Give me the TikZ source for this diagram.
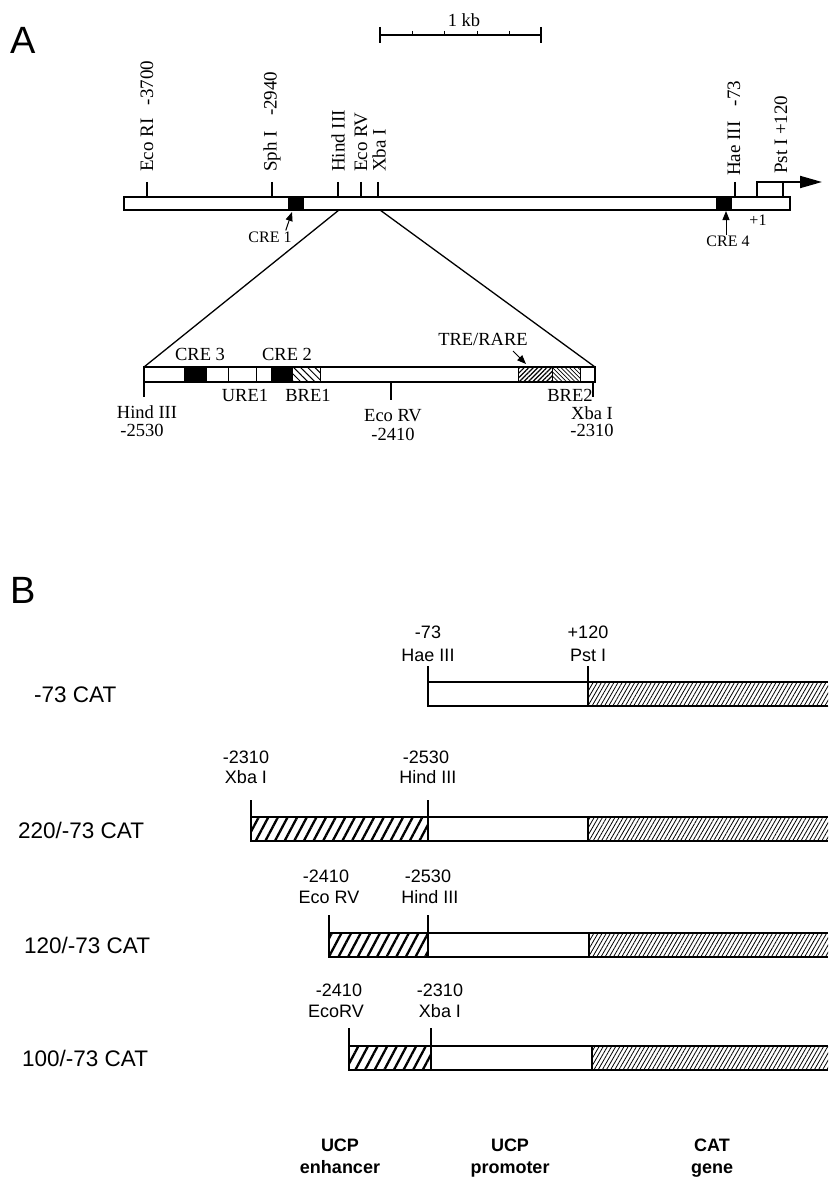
\documentclass[tikz,border=0pt]{standalone}
\usepackage{fontspec}
\setmainfont{Liberation Serif}
\setsansfont{Liberation Sans}
\usetikzlibrary{positioning, calc, arrows.meta, patterns.meta}

\begin{document}
\begin{tikzpicture}[
    x=1pt, y=-1pt,
    mapbar/.style={draw, line width=1.3pt, fill=white},
    crebox/.style={fill=black},
    divider/.style={line width=0.9pt},
    site/.style={line width=1.2pt},
    cut/.style={line width=1.3pt},
    rsite/.style={rotate=90, anchor=west, inner sep=0pt, font=\fontsize{19}{19}\selectfont},
    slabel/.style={inner sep=0pt, font=\fontsize{18.5}{18.5}\selectfont},
    crelabel/.style={inner sep=0pt, font=\fontsize{16}{16}\selectfont},
    ptr/.style={-{Triangle[length=9pt, width=7pt]}, line width=1pt},
    construct/.style={draw, line width=1.8pt},
    enhancer/.style={pattern={Lines[angle=62, distance=8.5pt, line width=2.3pt]}},
    catgene/.style={pattern={Lines[angle=60, distance=3.6pt, line width=0.8pt]}},
    bsite/.style={anchor=base, inner sep=0pt, font=\sffamily\fontsize{18}{18}\selectfont},
    rowlabel/.style={anchor=west, inner sep=0pt, font=\sffamily\fontsize{22.5}{22.5}\selectfont},
    partlabel/.style={anchor=base west, inner sep=0pt, font=\sffamily\fontsize{38}{38}\selectfont},
    region/.style={anchor=base, inner sep=0pt, font=\sffamily\bfseries\fontsize{18}{18}\selectfont}
]
    \useasboundingbox (0,0) rectangle (828,1177);

    % ================= PART A: MAP =================
    \node[partlabel] (partA) at (10,54) {A};

    % scale bar
    \draw[line width=1.3pt] (380,35) -- (541,35);
    \draw[line width=1.3pt] (380,27) -- (380,43) (541,27) -- (541,43);
    \foreach \x in {412,444,477,509}
        \draw[line width=0.9pt] (\x,31) -- (\x,35);
    \node[slabel] (kb) at (464,20) {1 kb};

    % main bar
    \draw[mapbar] (124,197) rectangle (790,210);
    \fill[crebox] (288,197) rectangle (304,210);
    \fill[crebox] (716,197) rectangle (732,210);

    % restriction sites
    \draw[site] (147,182) -- (147,197);
    \draw[site] (272,182) -- (272,197);
    \draw[site] (338,182) -- (338,197);
    \draw[site] (361,182) -- (361,197);
    \draw[site] (378,182) -- (378,197);
    \draw[site] (735,182) -- (735,197);
    \draw[site] (783,182) -- (783,197);

    \node[rsite] (ecoriA) at (147,172) {Eco RI\hspace{0.7em}-3700};
    \node[rsite] (sphiA) at (272,172) {Sph I\hspace{0.8em}-2940};
    \node[rsite] (hindA) at (338,172) {Hind III};
    \node[rsite] (ecorvA) at (361,172) {Eco RV};
    \node[rsite] (xbaA) at (379,172) {Xba I};
    \node[rsite] (haeA) at (734,176) {Hae III\hspace{0.8em}-73};
    \node[rsite] (pstA) at (781,174) {Pst I +120};

    % transcription start
    \coordinate (tss) at (757,197);
    \coordinate (tssend) at (822,182);
    \draw[line width=2pt, -{Triangle[length=22pt, width=12pt]}] (tss) |- (tssend);
    \node[crelabel] (plus1) at (758,220) {+1};

    % CRE pointers
    \node[crelabel] (cre1) at (270,237) {CRE 1};
    \coordinate (cre1tip) at (292,212);
    \draw[ptr] (cre1.north east) ++(-6,-1) -- (cre1tip);
    \node[crelabel] (cre4) at (728,241) {CRE 4};
    \coordinate (cre4tip) at (726,211);
    \draw[ptr] (cre4tip |- cre4.north) -- (cre4tip);

    % ================= PART A: EXPANDED REGION =================
    \coordinate (hindcut) at (339,210);
    \coordinate (xbacut) at (380,210);
    \coordinate (expNW) at (144,367);
    \coordinate (expNE) at (595,367);
    \draw[cut] (hindcut) -- (expNW);
    \draw[cut] (xbacut) -- (expNE);

    \draw[mapbar] (144,367) rectangle (595,382);
    \fill[crebox] (184,367) rectangle (207,382);
    \fill[crebox] (271,367) rectangle (293,382);
    \fill[pattern={Lines[angle=-45, distance=5pt, line width=1pt]}] (293,367) rectangle (320,382);
    \fill[pattern={Lines[angle=45, distance=3.2pt, line width=1.2pt]}] (518,367) rectangle (552,382);
    \fill[pattern={Lines[angle=-45, distance=3pt, line width=0.7pt]}] (552,367) rectangle (580,382);
    \foreach \x in {184,228,256,320,518,552,580}
        \draw[divider] (\x,367) -- (\x,382);
    \draw[mapbar, fill=none] (144,367) rectangle (595,382);

    \draw[site] (144,382) -- (144,397);
    \draw[site] (391,382) -- (391,400);
    \draw[site] (593,382) -- (593,397);

    \node[slabel] (cre3) at (200,354) {CRE 3};
    \node[slabel] (cre2) at (287,354) {CRE 2};
    \node[slabel] (tre) at (483,339) {TRE/RARE};
    \coordinate (tretip) at (526,364);
    \draw[ptr] (513,351) -- (tretip);

    \node[slabel] (ure1) at (245,395) {URE1};
    \node[slabel] (bre1) at (308,395) {BRE1};
    \node[slabel] (bre2) at (570,395) {BRE2};
    \node[slabel] (hindB) at (147,412) {Hind III};
    \node[slabel] (hindBn) at (142,430) {-2530};
    \node[slabel] (ecorvB) at (393,416) {Eco RV};
    \node[slabel] (ecorvBn) at (393,434) {-2410};
    \node[slabel] (xbaB) at (592,413) {Xba I};
    \node[slabel] (xbaBn) at (592,430) {-2310};

    % ================= PART B: CONSTRUCTS =================
    \node[partlabel] (partB) at (10,603) {B};

    % -73 CAT
    \node[rowlabel] (row1) at (34,695) {-73 CAT};
    \draw[construct] (428,682) rectangle (588,706);
    \fill[catgene] (588,682) rectangle (828,706);
    \draw[construct] (588,682) -- (828,682) (588,706) -- (828,706);
    \draw[construct] (428,666) -- (428,682);
    \draw[construct] (588,666) -- (588,706);
    \node[bsite] (r1a) at (428,638) {-73};
    \node[bsite] (r1b) at (428,661) {Hae III};
    \node[bsite] (r1c) at (588,638) {+120};
    \node[bsite] (r1d) at (588,661) {Pst I};

    % 220/-73 CAT
    \node[rowlabel] (row2) at (18,830) {220/-73 CAT};
    \draw[construct, enhancer] (251,817) rectangle (428,841);
    \draw[construct] (428,817) rectangle (588,841);
    \fill[catgene] (588,817) rectangle (828,841);
    \draw[construct] (588,817) -- (828,817) (588,841) -- (828,841);
    \draw[construct] (251,800) -- (251,817) (428,800) -- (428,817);
    \node[bsite] (r2a) at (246,763) {-2310};
    \node[bsite] (r2b) at (246,783) {Xba I};
    \node[bsite] (r2c) at (426,763) {-2530};
    \node[bsite] (r2d) at (428,783) {Hind III};

    % 120/-73 CAT
    \node[rowlabel] (row3) at (24,945) {120/-73 CAT};
    \draw[construct, enhancer] (329,933) rectangle (428,957);
    \draw[construct] (428,933) rectangle (589,957);
    \fill[catgene] (589,933) rectangle (828,957);
    \draw[construct] (589,933) -- (828,933) (589,957) -- (828,957);
    \draw[construct] (329,915) -- (329,933) (428,915) -- (428,933);
    \node[bsite] (r3a) at (326,882) {-2410};
    \node[bsite] (r3b) at (329,903) {Eco RV};
    \node[bsite] (r3c) at (428,882) {-2530};
    \node[bsite] (r3d) at (430,903) {Hind III};

    % 100/-73 CAT
    \node[rowlabel] (row4) at (22,1058) {100/-73 CAT};
    \draw[construct, enhancer] (349,1046) rectangle (431,1070);
    \draw[construct] (431,1046) rectangle (592,1070);
    \fill[catgene] (592,1046) rectangle (828,1070);
    \draw[construct] (592,1046) -- (828,1046) (592,1070) -- (828,1070);
    \draw[construct] (349,1028) -- (349,1046) (431,1028) -- (431,1046);
    \node[bsite] (r4a) at (339,996) {-2410};
    \node[bsite] (r4b) at (336,1017) {EcoRV};
    \node[bsite] (r4c) at (440,996) {-2310};
    \node[bsite] (r4d) at (440,1017) {Xba I};

    % ================= REGION LABELS =================
    \node[region] (enhA) at (340,1151) {UCP};
    \node[region] (enhB) at (340,1173) {enhancer};
    \node[region] (proA) at (510,1151) {UCP};
    \node[region] (proB) at (510,1173) {promoter};
    \node[region] (catA) at (712,1151) {CAT};
    \node[region] (catB) at (712,1173) {gene};

\end{tikzpicture}
\end{document}
